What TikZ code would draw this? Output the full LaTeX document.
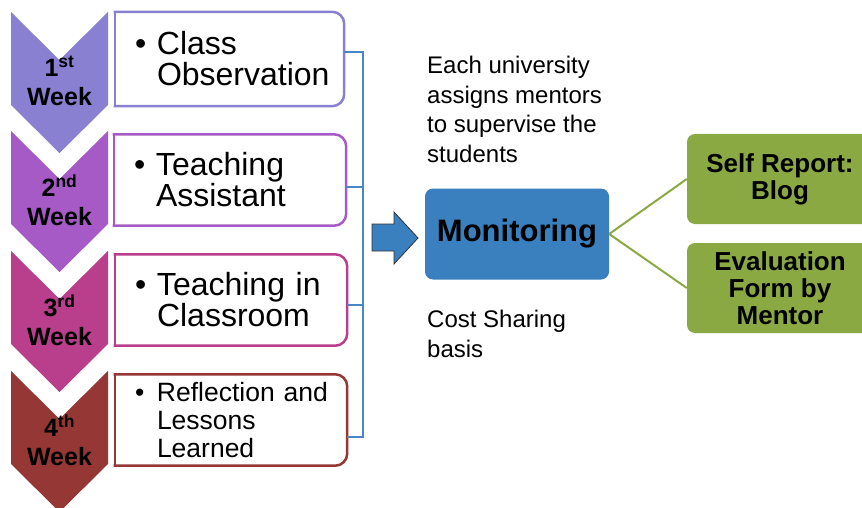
\documentclass[tikz,border=0pt]{standalone}
\usepackage{fontspec}
\setmainfont{Liberation Sans}
\usetikzlibrary{positioning}
\definecolor{wkone}{RGB}{138,128,210}
\definecolor{wktwo}{RGB}{166,90,197}
\definecolor{wkthree}{RGB}{185,62,139}
\definecolor{wkfour}{RGB}{149,55,53}
\definecolor{monblue}{RGB}{58,128,190}
\definecolor{brblue}{RGB}{74,134,197}
\definecolor{olivegreen}{RGB}{138,169,66}
\newcommand\wkbul{\hspace*{19pt}\makebox[22pt][l]{\textbullet}}
\newcommand\wkind{\hspace*{41pt}}

\begin{document}
\begin{tikzpicture}[x=1pt,y=-1pt,
                week node/.style={font=\bfseries\fontsize{25}{29}\selectfont,align=center,inner sep=0pt},
                task box/.style={minimum width=232pt,minimum height=91pt,text width=230pt,inner xsep=1pt,
                  inner ysep=0pt,align=left,font=\fontsize{32}{31}\selectfont},
                task line/.style={line width=2.5pt,line cap=rect},
                note/.style={align=left,inner sep=0pt,anchor=west,font=\fontsize{24}{29.5}\selectfont},
                out box/.style={fill=olivegreen,rounded corners=8pt,minimum width=186pt,minimum height=90pt,
                  align=center,font=\bfseries\fontsize{26}{27}\selectfont}]
                \useasboundingbox (0,0) rectangle (862,508);

                % chevrons
                \foreach \t/\c/\n/\s [count=\i] in {12/wkone/1/st,131/wktwo/2/nd,251/wkthree/3/rd,371/wkfour/4/th}{
                  \fill[\c] (11,\t) -- (59.5,\t+48) -- (108,\t) -- (108,\t+93) -- (59.5,\t+141) -- (11,\t+93) -- cycle;
                  \node[week node] (w\i) at (59.5,\t+69) {\n\textsuperscript{\s}\\Week};
                }

                % boxes
                \node[task box,minimum width=229pt,minimum height=94pt,text width=227pt] (b1) at (229.5,59)
                  {\wkbul Class\\\wkind Observation};
                \node[task box] (b2) at (230,180) {\wkbul Teaching\\\wkind Assistant};
                \node[task box] (b3) at (231,300) {\wkbul Teaching in\\\wkind Classroom};
                \node[task box,font=\fontsize{26.5}{28}\selectfont] (b4) at (231,420)
                  {\wkbul Reflection and\\\wkind Lessons\\\wkind Learned};
                \foreach \b/\c in {b1/wkone,b2/wktwo,b3/wkthree,b4/wkfour}{
                  \draw[task line,\c,rounded corners=12pt] (\b.north west) -- (\b.north east) -- (\b.south east) -- (\b.south west);
                  \draw[task line,\c] (\b.south west) -- (\b.north west);
                }

                % bracket
                \coordinate (br) at (363,0);
                \draw[brblue,line width=1.8pt] ([yshift=7pt]b1.east) -- ([yshift=7pt]b1.east -| br)
                  -- ([yshift=-17pt]b4.east -| br) -- ([yshift=-17pt]b4.east);
                \draw[brblue,line width=1.8pt] ([yshift=-7pt]b2.east) -- ([yshift=-7pt]b2.east -| br);
                \draw[brblue,line width=1.8pt] ([yshift=-5pt]b3.east) -- ([yshift=-5pt]b3.east -| br);

                % arrow and monitoring
                \fill[monblue,draw=black!80,line width=0.8pt] (372,224) -- (394,224) -- (394,212) -- (418,238) -- (394,264)
                  -- (394,251) -- (372,251) -- cycle;
                \node[fill=monblue,rounded corners=8pt,minimum width=184pt,minimum height=91pt,
                  font=\bfseries\fontsize{31}{31}\selectfont] (mon) at (517,234) {Monitoring};
                \node[note] (each) at (427,109.5) {Each university\\assigns mentors\\to supervise the\\students};
                \node[note] (cost) at (427,334) {Cost Sharing\\basis};

                % outcomes
                \node[out box] (g1) at (780,179) {Self Report:\\Blog};
                \node[out box] (g2) at (780,288) {Evaluation\\Form by\\Mentor};
                \path[draw=olivegreen,line width=2pt]
                (mon.east) edge (g1.west)
                (mon.east) edge (g2.west);
\end{tikzpicture}
\end{document}
